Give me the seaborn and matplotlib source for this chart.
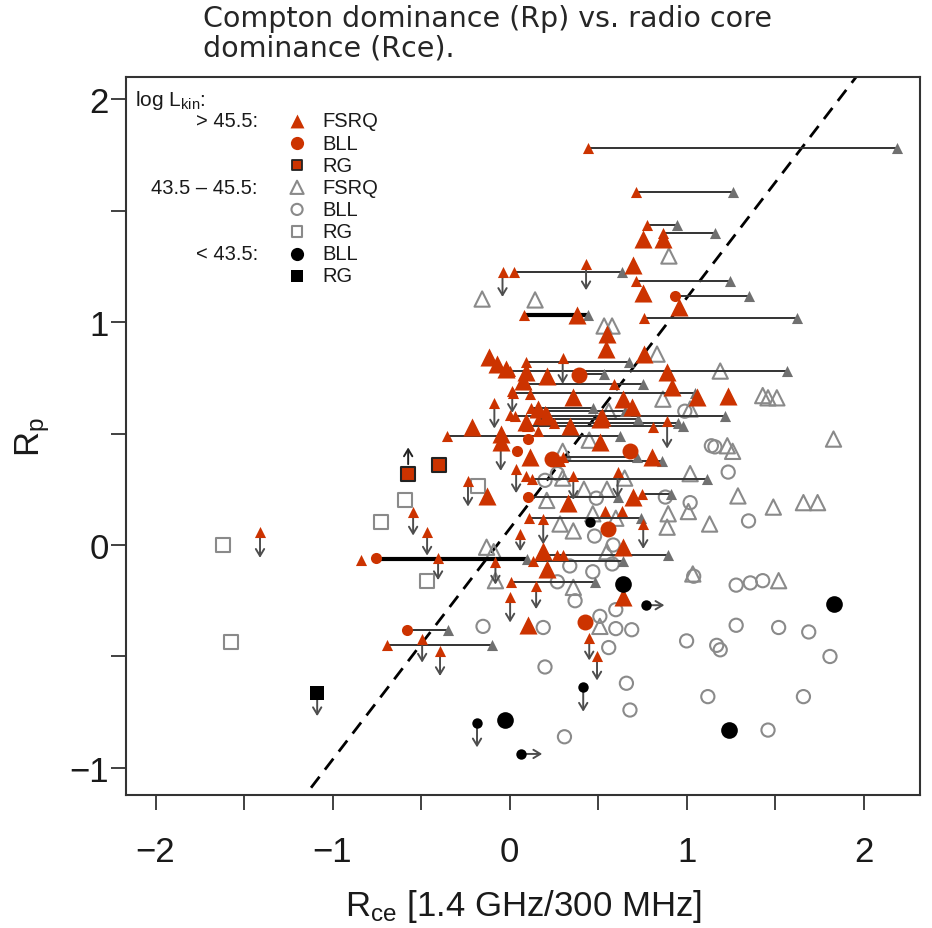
import matplotlib
matplotlib.use("Agg")
import matplotlib.pyplot as plt
import seaborn as sns
import numpy as np

# ---------------- data ----------------
# log Lkin > 45.5, FSRQ (large symbols)
fsrq_hi_x = [0.754, 0.867, 0.698, 0.754, 0.958, 0.381, 0.551, 0.545, -0.116, -0.07, -0.02, 0.76,
             0.09, 0.076, 0.21, 0.89, 0.918, 1.235, 1.06, 0.36, 0.16, 0.64, 0.69, 0.52, 0.21, 0.093,
             0.34, -0.21, -0.05, -0.05, 0.51, 0.805, 0.116, 0.33, -0.13, 0.70, 0.64, 0.19, 0.21,
             0.64, 0.105, 0.51]
fsrq_hi_y = [1.372, 1.372, 1.256, 1.13, 1.067, 1.031, 0.946, 0.88, 0.843, 0.81, 0.79, 0.857,
             0.775, 0.735, 0.76, 0.775, 0.71, 0.668, 0.664, 0.664, 0.61, 0.654, 0.62, 0.574, 0.58, 0.55,
             0.534, 0.53, 0.5, 0.46, 0.46, 0.395, 0.395, 0.19, 0.22, 0.215, -0.009, -0.027, -0.108,
             -0.233, -0.36, 0.565]
# log Lkin > 45.5, FSRQ (small symbols)
fsrq_hi_small_x = [0.444, 0.715, 0.777, 0.867, 0.025, 0.715, 0.082, 0.76, 0.093, 0.003, 0.09, 0.02,
                   0.12, 0.2, 0.031, 0.16, 0.1, 0.25, -0.353, 0.30, 0.285, 0.127, 0.75, 0.11, 0.17,
                   0.13, 0.008, -0.69,
                   -0.04, 0.432, 0.30, 0.015, -0.086, 0.89, 0.61, 0.36, 0.037, -0.235, -0.545, -0.466,
                   -1.41, 0.19, 0.755, 0.06, -0.08, 0.15, 0.003, -0.404, -0.494, -0.393, 0.45, 0.494,
                   0.59, 0.81, 0.27, 0.30, 0.54, 0.635, 0.0, 0.16, 0.116, -0.84, 0.093]
fsrq_hi_small_y = [1.78, 1.583, 1.435, 1.40, 1.224, 1.184, 1.031, 1.018, 0.82, 0.78, 0.72, 0.68,
                   0.615, 0.60, 0.58, 0.565, 0.534, 0.545, 0.49, 0.395, 0.377, 0.296, 0.229, 0.12, -0.045,
                   -0.07, -0.166, -0.448,
                   1.224, 1.26, 0.84, 0.69, 0.637, 0.556, 0.327, 0.31, 0.34, 0.287, 0.148, 0.058,
                   0.058, 0.117, 0.094, 0.05, -0.076, -0.184, -0.233, -0.06, -0.42, -0.475, -0.417, -0.50,
                   0.72, 0.53, -0.045, -0.045, 0.152, 0.152, 0.583, 0.51, 0.677, -0.067, 0.31]
# log Lkin > 45.5, BLL
bll_hi_x = [0.393, 0.24, 0.68, 0.556, 0.427]
bll_hi_y = [0.762, 0.386, 0.42, 0.072, -0.345]
bll_hi_small_x = [0.935, 0.105, 0.04, 0.105, -0.754, -0.58]
bll_hi_small_y = [1.117, 0.475, 0.42, 0.215, -0.06, -0.38]
# log Lkin > 45.5, RG
rg_hi_x = [-0.573, -0.398]
rg_hi_y = [0.318, 0.36]

# 43.5 < log Lkin < 45.5
fsrq_mid_x = [0.90, -0.155, 0.144, 0.534, 0.579, 0.833, 1.19, 0.866, 1.43, 1.46, 1.51, 1.02, 0.30,
              1.23, 1.26, 1.83, 0.21, 1.29, 1.49, 1.66, 1.74, 1.02, 0.896, 1.01, 1.13, 0.89, 0.285,
              0.36, -0.13, -0.09, -0.08, 0.36, 0.51, 1.52, 1.035, 0.42, 0.55, 0.47, 0.60, 0.65, 0.30,
              0.55, 0.45, 0.56]
fsrq_mid_y = [1.296, 1.103, 1.099, 0.982, 0.982, 0.856, 0.78, 0.654, 0.67, 0.66, 0.66, 0.61, 0.42,
              0.445, 0.42, 0.475, 0.20, 0.22, 0.17, 0.19, 0.19, 0.32, 0.14, 0.15, 0.094, 0.08, 0.094,
              0.063, -0.01, -0.03, -0.16, -0.19, -0.365, -0.16, -0.13, 0.25, 0.25, 0.14, 0.12, 0.30, 0.30,
              -0.03, 0.47, 0.60]
bll_mid_x = [-0.15, 0.19, 0.2, 0.51, 0.60, 0.69, 0.56, 0.66, 0.68, 0.31, 1.00, 1.17, 1.19, 1.28,
             1.52, 1.69, 1.81, 1.12, 1.66, 1.46, 1.28, 1.36, 1.43, 1.04, 1.16, 1.235, 1.02, 1.35,
             0.27, 0.99, 0.2, 0.49, 0.88, 0.48, 0.585, 0.47, 0.34, 0.37, 0.27, 0.58, 0.6, 1.14]
bll_mid_y = [-0.365, -0.37, -0.547, -0.32, -0.375, -0.38, -0.46, -0.62, -0.74, -0.86, -0.43, -0.45,
             -0.47, -0.36, -0.37, -0.39, -0.5, -0.68, -0.68, -0.83, -0.18, -0.17, -0.16, -0.14, 0.44,
             0.327, 0.19, 0.108, 0.32, 0.6, 0.29, 0.21, 0.215, 0.04, 0.0, -0.12, -0.094, -0.25, -0.165,
             -0.085, -0.29, 0.445]
rg_mid_x = [-1.62, -1.575, -0.59, -0.726, -0.466, -0.18]
rg_mid_y = [0.0, -0.436, 0.2, 0.103, -0.16, 0.265]

# log Lkin < 43.5
bll_lo_x = [0.64, 1.83, 1.24, -0.025]
bll_lo_y = [-0.175, -0.265, -0.83, -0.785]
bll_lo_small_x = [0.455, 0.77, 0.416, -0.184, 0.065]
bll_lo_small_y = [0.105, -0.27, -0.637, -0.8, -0.937]
rg_lo_x = [-1.087]
rg_lo_y = [-0.664]

# Rce ranges: (start, end, Rp)
link_x0 = [0.444, 0.715, 0.777, 0.867, 0.025, 0.715, 0.935, 0.082, 0.76, 0.093, 0.003, 0.393,
           0.09, 0.02, 0.12, 0.2, 0.031, 0.16, 0.1, 0.25, -0.353, 0.30, 0.285, 0.127, 0.105, 0.75,
           0.11, -0.754, 0.17, 0.13, 0.008, -0.58, -0.69]
link_x1 = [2.19, 1.263, 0.946, 1.161, 0.636, 1.246, 1.353, 0.444, 1.624, 0.675, 1.567, 0.534,
           0.755, 1.05, 0.47, 0.65, 1.218, 0.726, 0.98, 0.95, 0.625, 0.72, 0.86, 1.115, 0.61, 0.91,
           0.74, 0.10, 0.896, 0.64, 0.483, -0.347, -0.10]
link_y = [1.78, 1.583, 1.435, 1.40, 1.224, 1.184, 1.117, 1.031, 1.018, 0.82, 0.78, 0.765,
          0.72, 0.68, 0.615, 0.60, 0.58, 0.565, 0.534, 0.545, 0.49, 0.395, 0.377, 0.296, 0.215, 0.229,
          0.12, -0.063, -0.045, -0.07, -0.166, -0.38, -0.448]
thick_links = [7, 27]

# upper limits on Rp: (x, from, to)
ul_x = [-0.04, 0.432, 0.30, 0.015, -0.086, -0.05, 0.89, 0.61, 0.36, 0.037, -0.235, -0.545, -0.466,
        -1.41, 0.19, 0.755, 0.06, -0.08, 0.15, 0.003, -0.404, -0.494, -0.393, 0.45, 0.494, 0.416,
        -0.184, -1.087]
ul_y0 = [1.224, 1.26, 0.84, 0.69, 0.637, 0.44, 0.556, 0.327, 0.31, 0.34, 0.287, 0.148, 0.058,
         0.058, 0.117, 0.094, 0.05, -0.076, -0.184, -0.233, -0.06, -0.42, -0.475, -0.417, -0.50, -0.637,
         -0.8, -0.664]
ul_y1 = [1.10, 1.13, 0.71, 0.58, 0.51, 0.32, 0.42, 0.20, 0.19, 0.22, 0.16, 0.03, -0.06,
         -0.07, -0.01, -0.03, -0.04, -0.19, -0.30, -0.36, -0.17, -0.54, -0.60, -0.53, -0.62, -0.76,
         -0.92, -0.78]
# lower limit on Rp
ll_x, ll_y0, ll_y1 = [-0.573], [0.35], [0.45]
# lower limits on Rce
lr_y = [-0.937, -0.27]
lr_x0 = [0.065, 0.77]
lr_x1 = [0.20, 0.89]

# ---------------- style ----------------
sns.set_style("ticks")
plt.rcParams["font.family"] = ["Liberation Sans", "DejaVu Sans"]
plt.rcParams["mathtext.fontset"] = "custom"
plt.rcParams["mathtext.rm"] = "Liberation Sans"
plt.rcParams["mathtext.it"] = "Liberation Sans"

RED = "#CC3300"
GREY = "#8a8a8a"
DGREY = "#707070"
AXC = "#333333"
TXT = "#1a1a1a"

fig = plt.figure(figsize=(9.32, 9.29), dpi=100)
ax = fig.add_axes([0.1352, 0.1432, 0.852, 0.7729])

def pts(x, y, marker, size, face, edge, lw=0.0, z=5):
    sns.scatterplot(x=x, y=y, marker=marker, s=size ** 2, facecolor=face, edgecolor=edge,
                    linewidth=lw, ax=ax, zorder=z, legend=False)

# diagonal reference line
xx = np.array([-1.2, 2.0])
ax.plot(xx, 1.035 * (xx + 0.07), color="black", lw=2.0, dashes=(5, 3.2), zorder=1)

# open symbols, 43.5-45.5
pts(fsrq_mid_x, fsrq_mid_y, "^", 11, "none", GREY, 1.5, z=2)
pts(bll_mid_x, bll_mid_y, "o", 9.5, "none", GREY, 1.5, z=2)
pts(rg_mid_x, rg_mid_y, "s", 10, "none", GREY, 1.5, z=2)

# Rce ranges
for i, (a, b, y) in enumerate(zip(link_x0, link_x1, link_y)):
    thick = i in thick_links
    ax.plot([a, b], [y, y], color="black" if thick else AXC, lw=3.0 if thick else 1.4,
            solid_capstyle="butt", zorder=3)
pts(link_x1, link_y, "^", 8, DGREY, DGREY, 0, z=4)

# limit arrows
arrow_kw = dict(arrowstyle="->,head_length=0.5,head_width=0.3", color="#4d4d4d", lw=1.4)
for x, a, b in zip(ul_x, ul_y0, ul_y1):
    ax.annotate("", xy=(x, b), xytext=(x, a), arrowprops=arrow_kw, zorder=4)
for x, a, b in zip(ll_x, ll_y0, ll_y1):
    ax.annotate("", xy=(x, b), xytext=(x, a), arrowprops=dict(arrow_kw, color="#222222"), zorder=4)
for y, a, b in zip(lr_y, lr_x0, lr_x1):
    ax.annotate("", xy=(b, y), xytext=(a, y), arrowprops=arrow_kw, zorder=4)

# filled symbols, > 45.5
pts(fsrq_hi_x, fsrq_hi_y, "^", 13, RED, RED, 0, z=5)
pts(fsrq_hi_small_x, fsrq_hi_small_y, "^", 8, RED, RED, 0, z=5)
pts(bll_hi_x, bll_hi_y, "o", 11.5, RED, RED, 0, z=5)
pts(bll_hi_small_x, bll_hi_small_y, "o", 8, RED, RED, 0, z=5)
pts(rg_hi_x, rg_hi_y, "s", 10, RED, "#222222", 1.5, z=5)

# black symbols, < 43.5
pts(bll_lo_x, bll_lo_y, "o", 12, "black", "black", 0, z=6)
pts(bll_lo_small_x, bll_lo_small_y, "o", 7.5, "black", "black", 0, z=6)
pts(rg_lo_x, rg_lo_y, "s", 10, "black", "black", 0, z=6)

# axes
ax.set_xlim(-2.167, 2.319)
ax.set_ylim(-1.121, 2.099)
ax.set_xticks(np.arange(-2, 2.01, 0.5))
ax.set_xticklabels(["\u22122", "", "\u22121", "", "0", "", "1", "", "2"])
ax.set_yticks(np.arange(-1, 2.01, 0.5))
ax.set_yticklabels(["\u22121", "", "0", "", "1", "", "2"])
for s in ax.spines.values():
    s.set_visible(True)
    s.set_color(AXC)
    s.set_linewidth(1.5)
ax.tick_params(axis="both", direction="out", length=10.5, width=1.3, color=AXC,
               labelsize=25, labelcolor=TXT)
ax.tick_params(axis="x", pad=18)
ax.tick_params(axis="y", pad=2)
ax.set_xlabel(r"R$_\mathrm{ce}$ [1.4 GHz/300 MHz]", fontsize=25, color=TXT, labelpad=14)
ax.set_ylabel(r"R$_\mathrm{p}$", fontsize=25, color=TXT, labelpad=12)

# key
tr = ax.transAxes
ax.text(0.0113, 0.969, r"log L$_\mathrm{kin}$:", transform=tr, fontsize=15, va="center", ha="left",
        color=TXT)
row_y = [0.9387 - 0.0308 * k for k in range(8)]
key_marks = [("^", RED, RED, 0, 10), ("o", RED, RED, 0, 9.5), ("s", RED, "#222222", 1.3, 7.5),
             ("^", "none", GREY, 1.5, 9.5), ("o", "none", GREY, 1.5, 8), ("s", "none", GREY, 1.5, 7.5),
             ("o", "black", "black", 0, 9.5), ("s", "black", "black", 0, 8.5)]
key_names = ["FSRQ", "BLL", "RG", "FSRQ", "BLL", "RG", "BLL", "RG"]
for (m, fc, ec, lw, sz), name, y in zip(key_marks, key_names, row_y):
    ax.scatter([0.2154], [y], transform=tr, marker=m, s=sz ** 2, facecolor=fc, edgecolor=ec,
               linewidth=lw, zorder=7, clip_on=False)
    ax.text(0.247, y, name, transform=tr, fontsize=14.5, va="center", ha="left", color=TXT)
for label, k in [("> 45.5:", 0), ("43.5 \u2013 45.5:", 3), ("< 43.5:", 6)]:
    ax.text(0.166, row_y[k], label, transform=tr, fontsize=14.5, va="center", ha="right",
            color=TXT)

fig.text(0.218, 0.995, "Compton dominance (Rp) vs. radio core\ndominance (Rce).",
         fontsize=20.5, family="DejaVu Sans", va="top", ha="left", linespacing=1.1)

fig.savefig("out.png", dpi=100)
